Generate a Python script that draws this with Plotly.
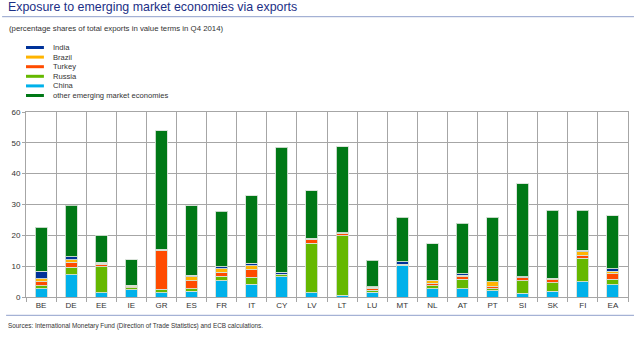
import plotly.graph_objects as go

# Euro area countries and the euro area aggregate
countries = ["BE", "DE", "EE", "IE", "GR", "ES", "FR", "IT", "CY", "LV",
             "LT", "LU", "MT", "NL", "AT", "PT", "SI", "SK", "FI", "EA"]

# Shares of total exports (%), Q4 2014, stacked bottom to top
china = [2.7, 7.2, 1.4, 2.4, 1.3, 1.9, 5.3, 4.2, 6.5, 1.3,
         0.6, 1.6, 10.2, 2.6, 2.6, 2.1, 1.2, 1.9, 4.9, 4.0]
russia = [1.0, 2.4, 8.4, 0.6, 1.2, 0.8, 1.5, 2.2, 0.7, 16.2,
          19.3, 0.6, 0.1, 1.1, 3.1, 0.5, 4.1, 2.8, 7.7, 1.8]
turkey = [1.3, 1.6, 0.9, 0.4, 12.6, 2.5, 1.2, 2.5, 0.1, 1.3,
          0.8, 0.6, 0.2, 0.8, 0.9, 0.8, 0.9, 0.9, 0.9, 1.8]
brazil = [0.9, 0.9, 0.3, 0.3, 0.3, 1.4, 1.1, 1.3, 0.1, 0.2,
          0.1, 0.4, 0.2, 0.7, 0.4, 1.5, 0.1, 0.4, 1.1, 0.8]
india = [2.5, 0.9, 0.2, 0.15, 0.1, 0.4, 0.7, 0.7, 0.6, 0.1,
         0.1, 0.1, 0.8, 0.3, 0.6, 0.1, 0.2, 0.1, 0.6, 0.7]
other = [14.2, 16.8, 8.8, 8.3, 38.5, 22.6, 18.0, 22.0, 40.6, 15.4,
         27.9, 8.7, 14.3, 11.7, 16.4, 20.9, 30.3, 22.0, 12.9, 17.2]

y_ticks = [0, 10, 20, 30, 40, 50, 60]

series = [
    ("China", china, "#00b1ea"),
    ("Russia", russia, "#65b800"),
    ("Turkey", turkey, "#ff4b00"),
    ("Brazil", brazil, "#ffb400"),
    ("India", india, "#003299"),
    ("other emerging market economies", other, "#007816"),
]

# Legend order as printed (top to bottom)
legend_order = ["India", "Brazil", "Turkey", "Russia", "China",
                "other emerging market economies"]
colour_of = {name: col for name, _, col in series}

FONT = "Liberation Sans, Arial, sans-serif"

fig = go.Figure()
for name, vals, col in series:
    fig.add_trace(go.Bar(
        x=countries, y=vals, name=name,
        marker=dict(color=col, line=dict(color="rgba(215,225,215,0.9)", width=1)),
        width=0.4, showlegend=False,
    ))

# Plot area in pixels: x 24..629, y 112..297
def px_x(px):
    return (px - 24) / 605

def px_y(py):
    return (297 - py) / 185

shapes = []
annotations = []

# Title rule and bottom rule
shapes.append(dict(type="line", xref="paper", yref="paper",
                   x0=px_x(0), x1=px_x(635), y0=px_y(16.7), y1=px_y(16.7),
                   line=dict(color="#8f9fcb", width=1)))
shapes.append(dict(type="line", xref="paper", yref="paper",
                   x0=px_x(4), x1=px_x(635), y0=px_y(315.3), y1=px_y(315.3),
                   line=dict(color="#8f9fcb", width=1)))

# Compact legend
for i, name in enumerate(legend_order):
    yy = 47.5 + i * 9.6
    shapes.append(dict(type="line", xref="paper", yref="paper",
                       x0=px_x(24), x1=px_x(42), y0=px_y(yy), y1=px_y(yy),
                       line=dict(color=colour_of[name], width=3)))
    annotations.append(dict(text=name, xref="paper", yref="paper",
                            x=px_x(49), y=px_y(yy), xanchor="left", yanchor="middle",
                            showarrow=False, font=dict(family=FONT, size=7.6, color="#333333")))

annotations.append(dict(text="Exposure to emerging market economies via exports",
                        xref="paper", yref="paper", x=px_x(4), y=px_y(7),
                        xanchor="left", yanchor="middle", showarrow=False,
                        font=dict(family=FONT, size=12.4, color="#1c2f86")))
annotations.append(dict(text="(percentage shares of total exports in value terms in Q4 2014)",
                        xref="paper", yref="paper", x=px_x(5), y=px_y(29),
                        xanchor="left", yanchor="middle", showarrow=False,
                        font=dict(family=FONT, size=7.8, color="#333333")))
annotations.append(dict(text="Sources: International Monetary Fund (Direction of Trade Statistics) and ECB calculations.",
                        xref="paper", yref="paper", x=px_x(4), y=px_y(326),
                        xanchor="left", yanchor="middle", showarrow=False,
                        font=dict(family=FONT, size=6.4, color="#333333")))

fig.update_layout(
    width=640, height=347,
    margin=dict(l=24, r=11, t=112, b=50, pad=0),
    barmode="stack",
    plot_bgcolor="white", paper_bgcolor="white",
    shapes=shapes, annotations=annotations,
    showlegend=False,
    font=dict(family=FONT, size=8, color="#333333"),
)
fig.update_xaxes(
    type="category", tickson="boundaries", showgrid=True, gridcolor="#a6a6a6", gridwidth=1,
    ticks="outside", ticklen=4, tickcolor="#a6a6a6",
    showline=True, linecolor="#a6a6a6", mirror=True,
    tickfont=dict(family=FONT, size=8, color="#333333"),
)
fig.update_yaxes(
    range=[0, 60], tickvals=y_ticks, showgrid=True, gridcolor="#a6a6a6", gridwidth=1,
    ticks="outside", ticklen=3, tickcolor="#a6a6a6",
    showline=True, linecolor="#a6a6a6", mirror=True, zeroline=False,
    tickfont=dict(family=FONT, size=8, color="#333333"),
)

fig.write_html("out.html")
